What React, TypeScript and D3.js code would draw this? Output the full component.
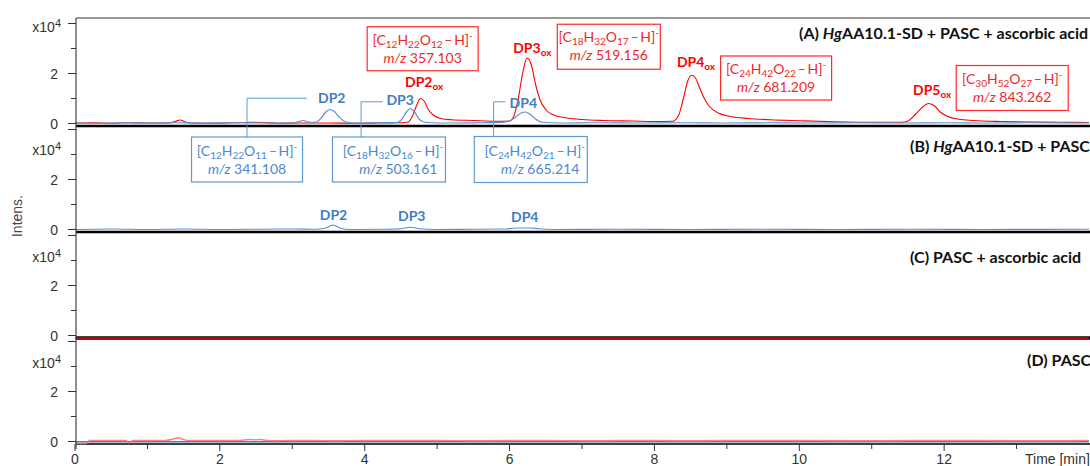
import React from "react";
import * as d3 from "d3";

type Pt = [number, number];

// ---------- DATA (time in min, intensity in x10^4) ----------
const xTickValues = [0, 2, 4, 6, 8, 10, 12];
const xMinorTicks = [1, 3, 5, 7, 9, 11, 13];
const yTickValues = [0, 1, 2, 3, 4];
const yTickLabels = ["0", "", "2", "", ""];

const panelTitlesPre = ["(A) ", "(B) ", "(C) PASC + ascorbic acid", "(D) PASC"];
const panelTitlesItalic = ["Hg", "Hg", "", ""];
const panelTitlesPost = ["AA10.1-SD + PASC + ascorbic acid", "AA10.1-SD + PASC", "", ""];

const redA: Pt[] = [
  [0, 0.02], [0.25, 0.03], [0.5, 0.01], [0.75, 0.03], [1.0, 0.02], [1.3, 0.02], [1.38, 0.08], [1.45, 0.14],
  [1.52, 0.06], [1.6, 0.02], [1.9, 0.01], [2.2, 0.03], [2.45, 0.05], [2.6, 0.04], [2.8, 0.01], [3.1, 0.02],
  [3.5, 0.02], [3.9, 0.01], [4.2, 0.02], [4.5, 0.03], [4.6, 0.06], [4.66, 0.3], [4.72, 0.75], [4.77, 1.0],
  [4.82, 0.9], [4.88, 0.55], [4.95, 0.33], [5.05, 0.2], [5.2, 0.15], [5.5, 0.12], [5.8, 0.09], [6.0, 0.1],
  [6.06, 0.3], [6.12, 1.0], [6.18, 2.0], [6.24, 2.62], [6.3, 2.35], [6.36, 1.55], [6.42, 0.95], [6.5, 0.55],
  [6.6, 0.35], [6.75, 0.24], [7.0, 0.16], [7.3, 0.12], [7.7, 0.1], [8.0, 0.08], [8.25, 0.09], [8.33, 0.3],
  [8.4, 1.0], [8.46, 1.7], [8.51, 1.93], [8.56, 1.85], [8.62, 1.45], [8.68, 1.05], [8.76, 0.68], [8.88, 0.42],
  [9.05, 0.28], [9.3, 0.2], [9.6, 0.15], [10.0, 0.11], [10.5, 0.07], [11.0, 0.05], [11.4, 0.05], [11.5, 0.1],
  [11.6, 0.35], [11.7, 0.65], [11.78, 0.8], [11.86, 0.72], [11.95, 0.45], [12.05, 0.28], [12.2, 0.17],
  [12.4, 0.12], [12.8, 0.08], [13.2, 0.06], [13.6, 0.05], [14, 0.04],
];

const blueA: Pt[] = [
  [0, 0.03], [0.3, 0.01], [0.6, 0.03], [1.0, 0.02], [1.4, 0.03], [1.8, 0.02], [2.2, 0.03], [2.6, 0.02],
  [3.0, 0.02], [3.08, 0.07], [3.15, 0.12], [3.22, 0.06], [3.32, 0.05], [3.4, 0.22], [3.47, 0.48], [3.52, 0.56],
  [3.58, 0.48], [3.65, 0.25], [3.74, 0.06], [3.85, 0.02], [4.2, 0.03], [4.45, 0.04], [4.52, 0.2], [4.58, 0.48],
  [4.63, 0.6], [4.69, 0.45], [4.76, 0.15], [4.85, 0.04], [5.2, 0.02], [5.6, 0.03], [5.9, 0.04], [6.0, 0.1],
  [6.08, 0.25], [6.16, 0.42], [6.22, 0.46], [6.28, 0.38], [6.36, 0.18], [6.45, 0.05], [6.7, 0.02], [7.2, 0.03],
  [7.8, 0.02], [8.4, 0.03], [9.0, 0.02], [9.6, 0.03], [10.2, 0.02], [10.8, 0.03], [11.4, 0.02], [12.0, 0.03],
  [12.6, 0.02], [13.2, 0.03], [14, 0.02],
];

const blueB: Pt[] = [
  [0, 0.0], [0.5, 0.02], [1.0, 0.0], [1.5, 0.02], [2.0, 0.0], [2.5, 0.01], [3.0, 0.02], [3.3, 0.01],
  [3.45, 0.05], [3.56, 0.18], [3.67, 0.05], [3.8, 0.0], [4.3, 0.01], [4.5, 0.03], [4.63, 0.09], [4.76, 0.03],
  [5.0, 0.0], [5.5, 0.01], [5.95, 0.02], [6.05, 0.05], [6.15, 0.06], [6.3, 0.06], [6.4, 0.03], [6.6, 0.0],
  [7.5, 0.01], [8.5, 0.0], [9.5, 0.01], [10.5, 0.0], [11.5, 0.01], [12.5, 0.0], [14, 0.01],
];

const redC: Pt[] = [[0, -0.1], [7, -0.1], [14, -0.1]];

const blueD: Pt[] = [[0, -0.01], [3.5, -0.01], [7, -0.01], [10.5, -0.01], [14, -0.01]];
const redD: Pt[] = [
  [0, -0.08], [0.15, -0.08], [0.2, 0.04], [0.7, 0.04], [0.75, -0.05], [0.8, 0.04], [1.0, 0.04], [1.25, 0.04],
  [1.36, 0.1], [1.42, 0.15], [1.5, 0.08], [1.56, 0.04], [2.2, 0.04], [2.3, 0.05], [2.4, 0.08], [2.5, 0.07],
  [2.56, 0.08], [2.64, 0.05], [2.7, 0.03], [3.0, 0.04], [3.3, 0.04], [3.6, 0.03], [4.0, 0.04], [4.5, 0.04],
  [5.0, 0.04], [5.5, 0.03], [6.0, 0.04], [6.5, 0.04], [7.0, 0.03], [7.6, 0.04], [8.0, 0.04], [8.6, 0.03],
  [9.2, 0.04], [10.0, 0.04], [10.8, 0.03], [11.6, 0.04], [12.4, 0.04], [13.2, 0.03], [14, 0.04],
];

const oxLabels = ["DP2", "DP3", "DP4", "DP5"];
const oxFormulas = ["C12H22O12", "C18H32O17", "C24H42O22", "C30H52O27"];
const oxMz = ["357.103", "519.156", "681.209", "843.262"];

const nativeLabels = ["DP2", "DP3", "DP4"];
const nativeFormulas = ["C12H22O11", "C18H32O16", "C24H42O21"];
const nativeMz = ["341.108", "503.161", "665.214"];

// ---------- LAYOUT (annotation anchors in data units) ----------
const oxLabelPos = [[4.556, 1.67], [6.05, 3.02], [8.31, 2.46], [11.57, 1.34]];
const oxBoxPos = [[4.8, 2.99, 111, 44], [7.37, 3.07, 103, 45], [9.68, 1.82, 111, 44], [12.94, 1.42, 112, 45]];
const nativeBoxPos = [[2.375, -1.44, 111, 45, "middle"], [4.335, -1.44, 113, 45, "end"], [6.293, -1.44, 113, 46, "end"]];
// connector: vertical x (t), elbow v, horizontal end t, label start t, label v
const nativeConn = [[2.375, 1.01, 3.2, 3.355, 1.02], [3.95, 0.87, 4.25, 4.3, 0.94], [5.78, 0.87, 5.94, 6.0, 0.82]];
const nativeBLabelPos = [[3.38, 0.58], [4.46, 0.54], [6.02, 0.5]];
const x104Pos = [3.86, 3.18, 3.14, 3.14];
const titleStart = [799, 910, 910, 1027];
const titleBaseline = [39, 152, 263, 366];

const SANS = "'Liberation Sans', Arial, sans-serif";
const CAL = "Lato, 'Open Sans', sans-serif";
const RED = "#FF0000";
const BLUE_T = "#3F7DC4";
const BLUE_BOX = "#5B9BD5";
const BLUE_LINE = "#5A8FD2";

function parseFormula(f: string): [string, string][] {
  const out: [string, string][] = [];
  const re = /([A-Z][a-z]?)(\d*)/g;
  let m: RegExpExecArray | null;
  while ((m = re.exec(f)) !== null) {
    if (!m[0]) break;
    out.push([m[1], m[2]]);
  }
  return out;
}

function FormulaLine({ x, y, formula, color, anchor }: { x: number; y: number; formula: string; color: string; anchor: string }) {
  const parts = parseFormula(formula);
  const kids: any[] = [<tspan key="b">[</tspan>];
  parts.forEach(([el, n], i) => {
    kids.push(<tspan key={"e" + i} dy={i === 0 ? 0 : -3}>{el}</tspan>);
    kids.push(<tspan key={"n" + i} dy={3} fontSize={10}>{n}</tspan>);
  });
  kids.push(<tspan key="h" dy={-3}>{"\u2009\u2013\u2009H]"}</tspan>);
  kids.push(<tspan key="s" dy={-6} fontSize={10}>-</tspan>);
  return (
    <text x={x} y={y} fill={color} fontFamily={CAL} fontSize={14} textAnchor={anchor as any}>
      {kids}
    </text>
  );
}

function MzLine({ x, y, mz, color, anchor }: { x: number; y: number; mz: string; color: string; anchor: string }) {
  return (
    <text x={x} y={y} fill={color} fontFamily={CAL} fontSize={14} textAnchor={anchor as any}>
      <tspan fontStyle="italic">m/z</tspan>
      <tspan>{" " + mz}</tspan>
    </text>
  );
}

export default function App() {
  const W = 1090, H = 466;
  const x = d3.scaleLinear().domain([0, 14]).range([75, 1089]);
  const bottoms = [126, 232, 338, 444];
  const ys = bottoms.map((b) => d3.scaleLinear().domain([-0.1, 4]).range([b, b - 102.5]));
  const mk = (y: d3.ScaleLinear<number, number>) =>
    d3.line<Pt>().x((d) => x(d[0])).y((d) => y(d[1])).curve(d3.curveMonotoneX);
  const axisX = 76;
  const yA = ys[0];

  return (
    <svg width={W} height={H} style={{ position: "absolute", left: 0, top: 0, background: "#fff" }}>
      <rect x={0} y={0} width={W} height={H} fill="#fff" />

      {/* traces */}
      <path d={mk(ys[0])(redA) || ""} fill="none" stroke={RED} strokeWidth={1.1} />
      <path d={mk(ys[0])(blueA) || ""} fill="none" stroke={BLUE_LINE} strokeWidth={1.2} />
      <path d={mk(ys[1])(blueB) || ""} fill="none" stroke={BLUE_LINE} strokeWidth={1.2} />

      {/* frame: top line, separators */}
      <line x1={axisX} x2={W} y1={18} y2={18} stroke="#333" strokeWidth={1} />
      {bottoms.slice(0, 3).map((b, i) => (
        <line key={"sep" + i} x1={axisX} x2={W} y1={b} y2={b} stroke="#000" strokeWidth={i === 2 ? 3.5 : 2.5} />
      ))}
      <line x1={axisX} x2={W} y1={bottoms[3]} y2={bottoms[3]} stroke="#000" strokeWidth={1.5} />

      <path d={mk(ys[2])(redC) || ""} fill="none" stroke={RED} strokeWidth={1.3} />
      <path d={mk(ys[3])(blueD) || ""} fill="none" stroke="#4A78C8" strokeWidth={1.6} />
      <path d={mk(ys[3])(redD) || ""} fill="none" stroke="#FF7070" strokeWidth={1.5} opacity={0.9} />

      {/* left axis */}
      <line x1={axisX} x2={axisX} y1={18} y2={449} stroke="#444" strokeWidth={1.2} />
      {ys.map((y, pi) => (
        <g key={"ya" + pi}>
          {yTickValues.map((v, ti) => {
            const major = v % 2 === 0;
            return (
              <g key={ti}>
                <line x1={axisX - (major ? 8 : 5)} x2={axisX} y1={y(v)} y2={y(v)} stroke="#333" strokeWidth={1} />
                {yTickLabels[ti] && (
                  <text x={58} y={y(v) + 5} textAnchor="end" fontFamily={SANS} fontSize={14} fill="#333">
                    {yTickLabels[ti]}
                  </text>
                )}
              </g>
            );
          })}
          <text x={61} y={y(x104Pos[pi]) + 5} textAnchor="end" fontFamily={SANS} fontSize={14} fill="#333">
            <tspan>x10</tspan>
            <tspan dy={-5} fontSize={11}>4</tspan>
          </text>
        </g>
      ))}
      <text transform={`translate(22,216) rotate(-90)`} textAnchor="middle" fontFamily={SANS} fontSize={14} fill="#444">
        Intens.
      </text>

      {/* bottom axis */}
      {xTickValues.map((t) => (
        <g key={"xt" + t}>
          <line x1={x(t)} x2={x(t)} y1={444} y2={451} stroke="#333" strokeWidth={1} />
          <text x={x(t)} y={464} textAnchor="middle" fontFamily={SANS} fontSize={14} fill="#333">
            {t}
          </text>
        </g>
      ))}
      {xMinorTicks.map((t) => (
        <line key={"xm" + t} x1={x(t)} x2={x(t)} y1={444} y2={449} stroke="#333" strokeWidth={1} />
      ))}
      <text x={1025} y={464} fontFamily={SANS} fontSize={14} fill="#333">
        Time [min]
      </text>

      {/* panel titles */}
      {panelTitlesPre.map((pre, i) => (
        <text key={"tt" + i} x={titleStart[i]} y={titleBaseline[i]} fontFamily={CAL} fontSize={16} fontWeight="bold" fill="#111">
          <tspan>{pre}</tspan>
          {panelTitlesItalic[i] && <tspan fontStyle="italic">{panelTitlesItalic[i]}</tspan>}
          {panelTitlesPost[i] && <tspan>{panelTitlesPost[i]}</tspan>}
        </text>
      ))}

      {/* oxidized annotations (red) */}
      {oxLabels.map((lab, i) => (
        <text key={"ol" + i} x={x(oxLabelPos[i][0])} y={yA(oxLabelPos[i][1]) + 5} fontFamily={CAL} fontSize={14} fontWeight="bold" fill={RED}>
          <tspan>{lab}</tspan>
          <tspan dy={3} fontSize={10}>ox</tspan>
        </text>
      ))}
      {oxBoxPos.map((b, i) => {
        const cx = x(b[0] as number), cy = yA(b[1] as number);
        const w = b[2] as number, h = b[3] as number;
        const top = cy - h / 2;
        return (
          <g key={"ob" + i}>
            <rect x={cx - w / 2} y={top} width={w} height={h} fill="#fff" stroke="#FF2A2A" strokeWidth={1.2} />
            <FormulaLine x={cx} y={top + 18} formula={oxFormulas[i]} color="#F02828" anchor="middle" />
            <MzLine x={cx} y={top + 36} mz={oxMz[i]} color="#F02828" anchor="middle" />
          </g>
        );
      })}

      {/* native annotations (blue) */}
      {nativeLabels.map((lab, i) => {
        const c = nativeConn[i];
        const b = nativeBoxPos[i];
        const cx = x(b[0] as number), cy = yA(b[1] as number);
        const w = b[2] as number, h = b[3] as number;
        const top = cy - h / 2;
        const anchor = b[4] as string;
        const lx2 = anchor === "end" ? cx + w / 2 - 8 : cx;
        return (
          <g key={"nb" + i}>
            <polyline
              points={`${x(c[0])},${top} ${x(c[0])},${yA(c[1])} ${x(c[2])},${yA(c[1])}`}
              fill="none"
              stroke={BLUE_BOX}
              strokeWidth={1}
            />
            <text x={x(c[3])} y={yA(c[4]) + 5} fontFamily={CAL} fontSize={14} fontWeight="bold" fill={BLUE_T}>
              {lab}
            </text>
            <rect x={cx - w / 2} y={top} width={w} height={h} fill="#fff" stroke={BLUE_BOX} strokeWidth={1.2} />
            <FormulaLine x={cx + (anchor === "end" ? 4 : 0)} y={top + 19} formula={nativeFormulas[i]} color="#4A8ACF" anchor="middle" />
            <MzLine x={lx2} y={top + 37} mz={nativeMz[i]} color="#4A8ACF" anchor={anchor} />
            <text x={x(nativeBLabelPos[i][0])} y={ys[1](nativeBLabelPos[i][1]) + 5} fontFamily={CAL} fontSize={14} fontWeight="bold" fill={BLUE_T}>
              {lab}
            </text>
          </g>
        );
      })}
    </svg>
  );
}
